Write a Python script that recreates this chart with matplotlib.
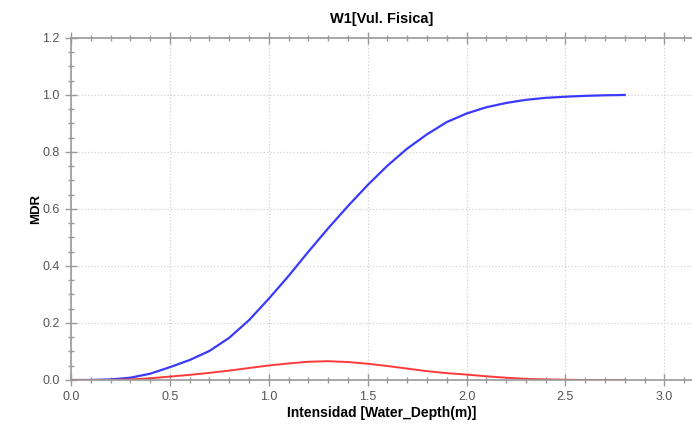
import numpy as np
import matplotlib
matplotlib.use('Agg')
import matplotlib.pyplot as plt
from matplotlib.ticker import MultipleLocator, FormatStrFormatter

# Données
intensidad = [0.0, 0.1, 0.2, 0.3, 0.4, 0.5, 0.6, 0.7, 0.8, 0.9, 1.0, 1.1, 1.2, 1.3,
              1.4, 1.5, 1.6, 1.7, 1.8, 1.9, 2.0, 2.1, 2.2, 2.3, 2.4, 2.5, 2.6, 2.7, 2.8]
mdr_media = [0.0, 0.0, 0.002, 0.008, 0.022, 0.045, 0.07, 0.102, 0.148, 0.21, 0.285,
             0.365, 0.45, 0.532, 0.61, 0.684, 0.752, 0.812, 0.862, 0.905, 0.935,
             0.957, 0.972, 0.983, 0.99, 0.994, 0.997, 0.999, 1.0]
mdr_sigma = [0.0, 0.0, 0.0, 0.002, 0.006, 0.012, 0.018, 0.025, 0.033, 0.042, 0.051,
             0.058, 0.064, 0.066, 0.063, 0.057, 0.049, 0.040, 0.031, 0.024, 0.019,
             0.013, 0.008, 0.004, 0.002, 0.001, 0.0, 0.0, 0.0]

titulo = 'W1[Vul. Fisica]'
etiqueta_x = 'Intensidad [Water_Depth(m)]'
etiqueta_y = 'MDR'

plt.rcParams['font.family'] = ['Liberation Sans', 'DejaVu Sans']

fig = plt.figure(figsize=(6.92, 4.25), dpi=100)
ax = fig.add_axes([0.1026, 0.1059, 0.8974, 0.8047])

ax.plot(intensidad, mdr_media, color='#3a3aff', lw=1.6, solid_joinstyle='round')
ax.plot(intensidad, mdr_sigma, color='#ff3a3a', lw=1.4, solid_joinstyle='round')

ax.set_xlim(0, 3.14)
ax.set_ylim(0, 1.2)
ax.xaxis.set_major_locator(MultipleLocator(0.5))
ax.xaxis.set_minor_locator(MultipleLocator(0.1))
ax.yaxis.set_major_locator(MultipleLocator(0.2))
ax.yaxis.set_minor_locator(MultipleLocator(0.05))
ax.xaxis.set_major_formatter(FormatStrFormatter('%.1f'))
ax.yaxis.set_major_formatter(FormatStrFormatter('%.1f'))

gris = '#9a9a9a'
for s in ['left', 'bottom', 'top']:
    ax.spines[s].set_color(gris)
    ax.spines[s].set_linewidth(1.2)
ax.spines['right'].set_visible(False)

ax.tick_params(which='major', direction='inout', length=8, width=1, color=gris,
               labelsize=9, labelcolor='#555555', top=True, pad=4)
ax.tick_params(which='minor', direction='inout', length=4, width=1, color=gris, top=True)
ax.tick_params(axis='x', which='both', labeltop=False)

ax.grid(True, which='major', color='#d2d2d2', linestyle=':', linewidth=0.9)
ax.set_axisbelow(True)

ax.set_title(titulo, fontsize=10.5, fontweight='bold', pad=11)
ax.set_xlabel(etiqueta_x, fontsize=10, fontweight='bold', labelpad=2)
ax.set_ylabel(etiqueta_y, fontsize=9.5, fontweight='bold', labelpad=0)

plt.savefig('out.png', dpi=100)
plt.close()
